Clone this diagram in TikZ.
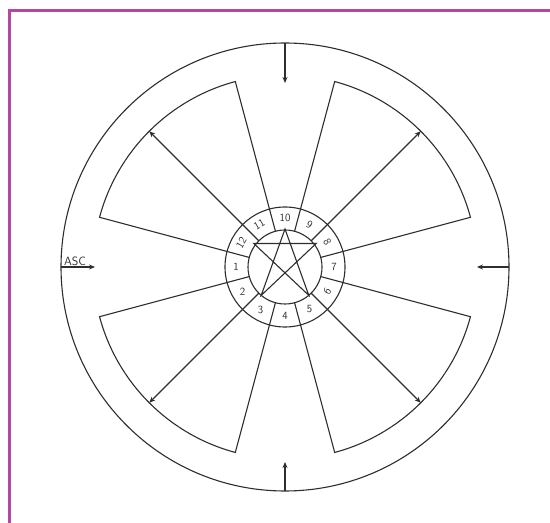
\documentclass[tikz,border=0pt]{standalone}
\usepackage{tikz}
\usetikzlibrary{positioning,arrows.meta}
\definecolor{Frame}{HTML}{B4479F}
\definecolor{Ink}{HTML}{2E2E2E}

\begin{document}
\begin{tikzpicture}[x=1pt, y=1pt, every node/.style={font=\sffamily}]
    \tikzstyle{ink}=[draw=Ink, line width=1.1pt]
    \tikzstyle{pointer}=[ink, -{Stealth[length=6pt, width=5pt]}]
    \tikzstyle{house}=[font=\sffamily\fontsize{11}{11}\selectfont, text=Ink, inner sep=0pt]
    \useasboundingbox (0,0) rectangle (550,523);
    \draw[Frame, line width=2.6pt] (9.3,0) -- (9.3,512.5) -- (550,512.5);
    \coordinate (c) at (285,256);
    \begin{scope}[shift={(c)}]
      % outer wheel and inner ring
      \draw[ink] (0,0) circle[radius=224];
      \draw[ink] (0,0) circle[radius=60];
      \draw[ink] (0,0) circle[radius=37];
      % four wedges, each split by a pointer
      \foreach \a in {45,135,225,315}{
        \draw[ink] ({\a-30}:37) -- ({\a-30}:192) arc[start angle={\a-30}, end angle={\a+30}, radius=192] -- ({\a+30}:37);
        \draw[pointer] (\a:37) -- (\a:192);
      }
      % house numbers
      \node[house] (h1) at (180:49) {1};
      \node[house] (h2) at (210:49) {2};
      \node[house] (h3) at (240:49) {3};
      \node[house] (h4) at (270:49) {4};
      \node[house] (h5) at (300:49) {5};
      \node[house, rotate=60] (h6) at (330:49) {6};
      \node[house] (h7) at (0:49) {7};
      \node[house, rotate=-60] (h8) at (30:49) {8};
      \node[house, rotate=-30] (h9) at (60:49) {9};
      \node[house] (h10) at (90:49) {10};
      \node[house, rotate=30] (h11) at (121:50) {11};
      \node[house, rotate=60] (h12) at (151:50) {12};
      % pentagram
      \draw[ink] (90:38) -- (230:37) -- (37:39) -- (143:39) -- (310:37) -- cycle;
      % angle ticks
      \coordinate (mc) at (90:224);   \coordinate (mcend) at (90:184);
      \coordinate (ic) at (270:224);  \coordinate (icend) at (270:195);
      \coordinate (dsc) at (0:224);   \coordinate (dscend) at (0:192);
      \coordinate (asc) at (180:224); \coordinate (ascend) at (180:190);
      \draw[pointer] (mc) -- (mcend);
      \draw[pointer] (ic) -- (icend);
      \draw[pointer] (dsc) -- (dscend);
      \draw[pointer] (asc) -- (ascend);
      \node[font=\sffamily\fontsize{12}{12}\selectfont, text=Ink, inner sep=1pt, anchor=south west] (asclabel) at ([xshift=2pt]asc) {ASC};
    \end{scope}
\end{tikzpicture}
\end{document}
